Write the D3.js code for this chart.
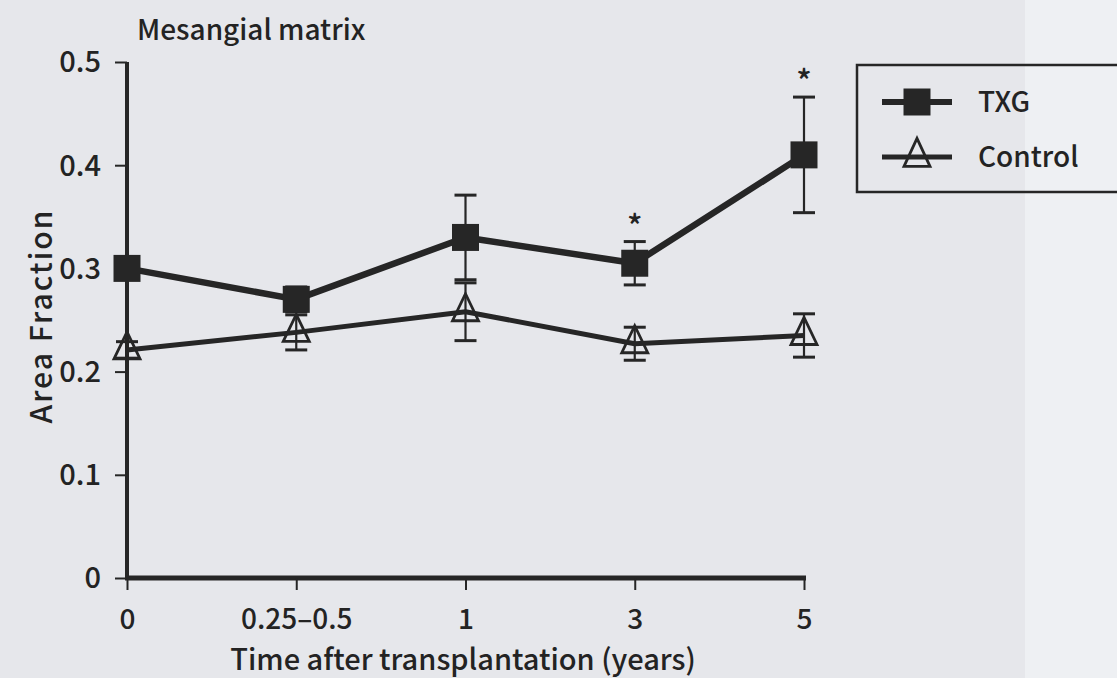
<!DOCTYPE html>
<html>
<head>
<meta charset="utf-8">
<script src="https://cdn.jsdelivr.net/npm/d3@7"></script>
<style>
  html, body { margin: 0; padding: 0; background: #e5e7eb; }
  svg { display: block; }
  text { font-family: "Noto Sans CJK JP", "Noto Sans", sans-serif; fill: #232323; }
</style>
</head>
<body>
<svg id="chart" width="1117" height="678"></svg>
<script>
// Time points after transplantation
const categories = ["0", "0.25\u20130.5", "1", "3", "5"];
// Mesangial matrix area fraction, mean and error
const txgValues = [0.300, 0.270, 0.330, 0.305, 0.410];
const txgErrors = [0.010, 0.012, 0.041, 0.021, 0.056];
const controlValues = [0.221, 0.238, 0.258, 0.227, 0.235];
const controlErrors = [0.008, 0.017, 0.028, 0.016, 0.021];
// Significant difference markers
const significant = [false, false, false, true, true];
const yTicks = [0, 0.1, 0.2, 0.3, 0.4, 0.5];

const ink = "#262626";
const font = "'Noto Sans CJK JP', sans-serif";
const svg = d3.select("#chart");

// Paper background with a paler strip along the right edge
svg.append("rect").attr("width", 1117).attr("height", 678).attr("fill", "#e6e7eb");
svg.append("rect").attr("x", 1025).attr("width", 92).attr("height", 678).attr("fill", "#eef0f3");

const x = d3.scalePoint().domain(categories).range([127, 804]);
const y = d3.scaleLinear().domain([0, 0.5]).range([578, 62]);

// Y axis
const yAxis = svg.append("g")
  .attr("transform", "translate(127,0)")
  .call(d3.axisLeft(y).tickValues(yTicks).tickSize(12).tickPadding(14)
    .tickFormat(d => d === 0 ? "0" : d3.format(".1f")(d)));
yAxis.select(".domain").attr("stroke", ink).attr("stroke-width", 4)
  .attr("d", `M0,${y(0) + 2}V${y(0.5)}`);
yAxis.selectAll(".tick line").attr("stroke", ink).attr("stroke-width", 2);
yAxis.selectAll(".tick text").attr("font-size", 29).attr("fill", "#232323")
  .attr("font-family", font).attr("font-weight", 500).attr("dy", "0.34em");

// X axis
const xAxis = svg.append("g")
  .attr("transform", `translate(0,${y(0)})`)
  .call(d3.axisBottom(x).tickSize(12).tickPadding(19));
xAxis.select(".domain").attr("stroke", ink).attr("stroke-width", 5)
  .attr("d", `M125,0H806`);
xAxis.selectAll(".tick line").attr("stroke", ink).attr("stroke-width", 2);
xAxis.selectAll(".tick text").attr("font-size", 28).attr("fill", "#232323")
  .attr("font-family", font).attr("font-weight", 500);

// Titles
svg.append("text").attr("x", 137).attr("y", 40)
  .attr("font-size", 28).attr("font-weight", 500).text("Mesangial matrix");
svg.append("text").attr("x", 463).attr("y", 670).attr("text-anchor", "middle")
  .attr("font-size", 29).attr("font-weight", 500)
  .text("Time after transplantation (years)");
svg.append("text")
  .attr("transform", "translate(52,316) rotate(-90)")
  .attr("text-anchor", "middle").attr("font-size", 30).attr("font-weight", 500)
  .attr("letter-spacing", 2)
  .text("Area Fraction");

// Triangle outline, slightly taller than wide, centred on its centroid
function trianglePath(w, h) {
  const p = d3.path();
  p.moveTo(0, -2 * h / 3);
  p.lineTo(w / 2, h / 3);
  p.lineTo(-w / 2, h / 3);
  p.closePath();
  return p.toString();
}
const square = d3.symbol().type(d3.symbolSquare).size(27 * 27)();

const line = d3.line().x((d, i) => x(categories[i])).y(d => y(d));

function drawSeries(values, errors, lineWidth, marker) {
  const g = svg.append("g");
  // error bars
  values.forEach((v, i) => {
    const cx = x(categories[i]);
    const top = y(v + errors[i]), bot = y(v - errors[i]);
    g.append("line").attr("x1", cx).attr("x2", cx).attr("y1", top).attr("y2", bot)
      .attr("stroke", ink).attr("stroke-width", 2.2);
    [top, bot].forEach(yy => g.append("line")
      .attr("x1", cx - 11).attr("x2", cx + 11).attr("y1", yy).attr("y2", yy)
      .attr("stroke", ink).attr("stroke-width", 3));
  });
  g.append("path").attr("d", line(values)).attr("fill", "none")
    .attr("stroke", ink).attr("stroke-width", lineWidth).attr("stroke-linejoin", "round");
  values.forEach((v, i) => {
    const m = g.append("path").attr("transform", `translate(${x(categories[i])},${y(v)})`);
    if (marker === "square") m.attr("d", square).attr("fill", ink);
    else m.attr("d", trianglePath(26, 27)).attr("fill", "none")
      .attr("stroke", ink).attr("stroke-width", 2.8).attr("stroke-linejoin", "miter");
  });
}

drawSeries(controlValues, controlErrors, 5, "triangle");
drawSeries(txgValues, txgErrors, 6.5, "square");

// Significance asterisks above the TXG error bars
significant.forEach((s, i) => {
  if (!s) return;
  svg.append("text").attr("x", x(categories[i])).attr("y", y(txgValues[i] + txgErrors[i]) - 4)
    .attr("text-anchor", "middle").attr("font-size", 32).attr("font-weight", 500).text("*");
});

// Legend
const legend = svg.append("g");
legend.append("rect").attr("x", 857).attr("y", 65).attr("width", 275).attr("height", 127)
  .attr("fill", "none").attr("stroke", ink).attr("stroke-width", 2.5);
const legendItems = [
  { label: "TXG", marker: "square", y: 102, w: 6 },
  { label: "Control", marker: "triangle", y: 157, w: 5 }
];
legendItems.forEach(it => {
  legend.append("line").attr("x1", 882).attr("x2", 952).attr("y1", it.y).attr("y2", it.y)
    .attr("stroke", ink).attr("stroke-width", it.w);
  const m = legend.append("path").attr("transform", `translate(917,${it.y})`);
  if (it.marker === "square") m.attr("d", square).attr("fill", ink);
  else m.attr("d", trianglePath(26, 28)).attr("fill", "none")
    .attr("stroke", ink).attr("stroke-width", 2.8);
  legend.append("text").attr("x", 978).attr("y", it.y + 10)
    .attr("font-size", 28).attr("font-weight", 500).text(it.label);
});
</script>
</body>
</html>
